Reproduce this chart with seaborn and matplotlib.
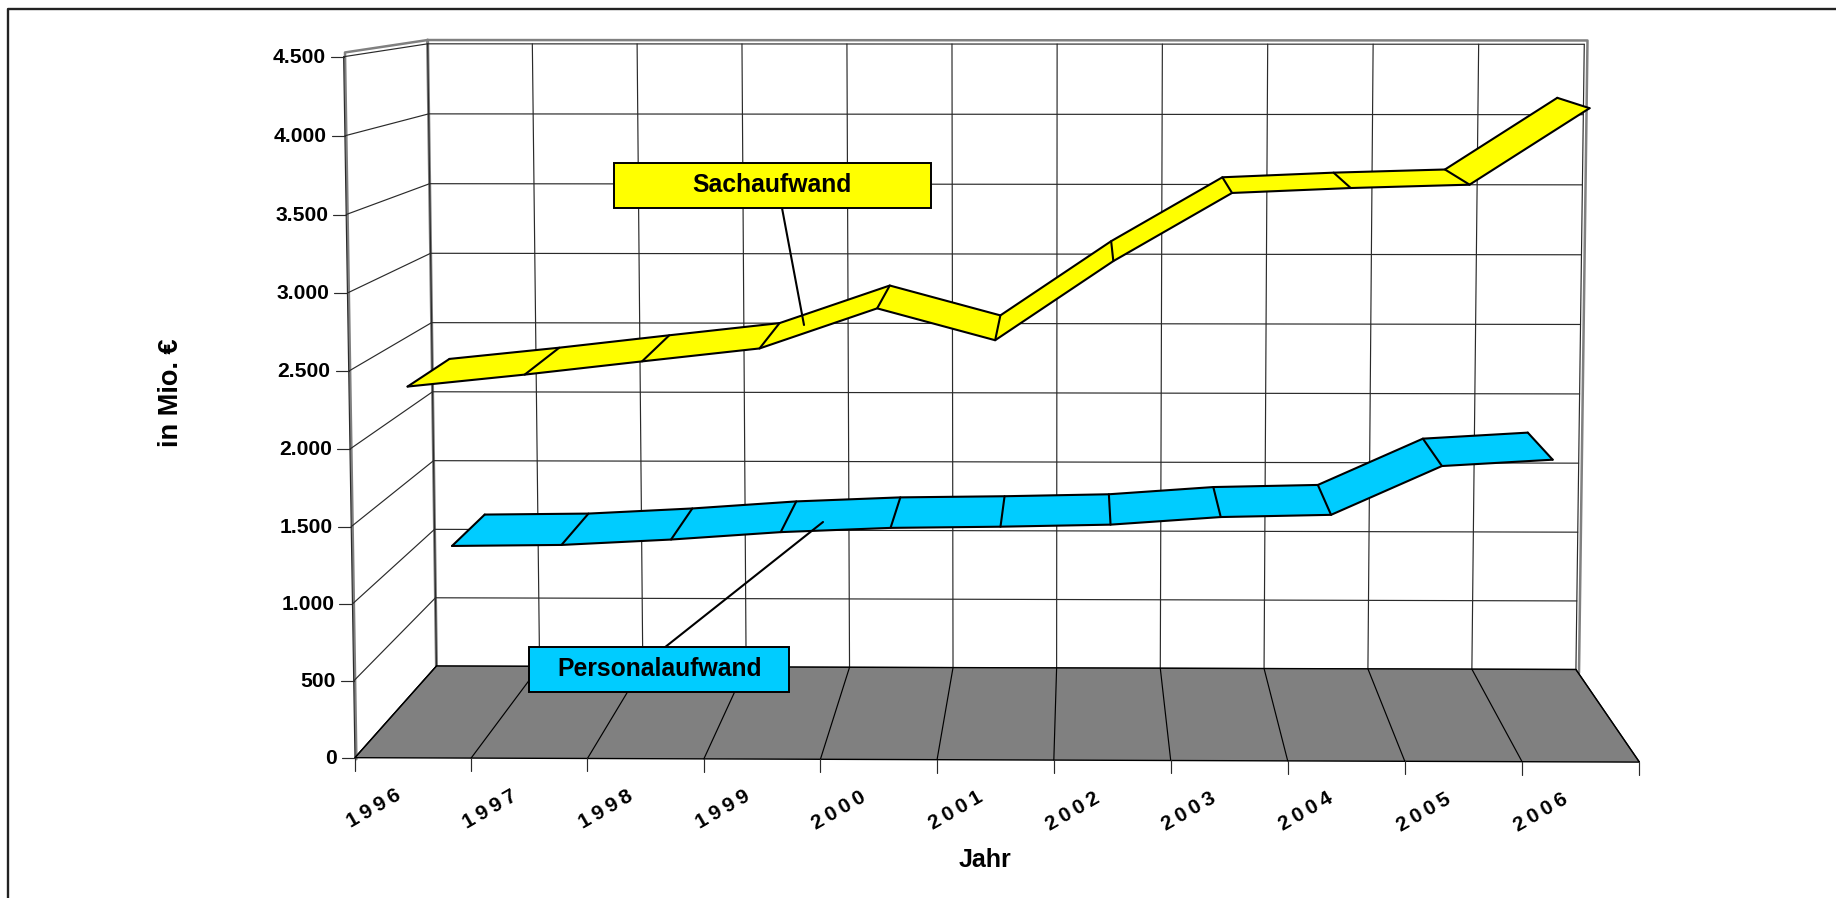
import numpy as np
import pandas as pd
import seaborn as sns
import matplotlib
matplotlib.use("Agg")
import matplotlib.pyplot as plt
from matplotlib.patches import Rectangle

years = [1996, 1997, 1998, 1999, 2000, 2001, 2002, 2003, 2004, 2005, 2006]
sachaufwand = [2402, 2480, 2566, 2650, 2907, 2705, 3210, 3643, 3675, 3697, 4180]
personalaufwand = [1118, 1127, 1166, 1219, 1250, 1260, 1276, 1330, 1347, 1683, 1728]
value_ticks = [0, 500, 1000, 1500, 2000, 2500, 3000, 3500, 4000, 4500]
value_labels = ["0", "500", "1.000", "1.500", "2.000", "2.500", "3.000", "3.500", "4.000", "4.500"]

YELLOW = "#FFFF00"
BLUE = "#00CCFF"
FLOOR = "#808080"
GRID = "#2a2a2a"
VMAX = 4500
N = len(years)

sns.set_theme(style="white")
plt.rcParams['font.family'] = ['Liberation Sans', 'DejaVu Sans']
plt.rcParams['font.weight'] = 'bold'

# box corners on screen, used to fit the perspective of the 3d chart
world = [(0, 0, 0), (N, 0, 0), (0, VMAX, 0), (0, 0, 1), (N, 0, 1), (0, VMAX, 1), (N, VMAX, 1)]
screen = [(354.7, 757.7), (1639.3, 762.3), (344, 56.5), (436.7, 666), (1576, 669.3), (427.3, 44), (1584.3, 44.3)]


def fit_camera(world, screen):
    A, b = [], []
    for (X, Y, Z), (u, v) in zip(world, screen):
        A.append([X, Y, Z, 1, 0, 0, 0, 0, -u * X, -u * Y, -u * Z])
        A.append([0, 0, 0, 0, X, Y, Z, 1, -v * X, -v * Y, -v * Z])
        b += [u, v]
    p = np.linalg.lstsq(np.array(A, float), np.array(b, float), rcond=None)[0]
    return np.append(p, 1).reshape(3, 4)


P = fit_camera(world, screen)


def project(x, value, depth):
    x, value, depth = np.broadcast_arrays(x, value, depth)
    pts = np.stack([x, value, depth, np.ones(x.shape)]) .astype(float)
    u, v, w = P @ pts
    return u / w, v / w


fig = plt.figure(figsize=(18.36, 8.98), dpi=100)
ax = fig.add_axes([0, 0, 1, 1])
ax.set_xlim(0, 1836)
ax.set_ylim(898, 0)
ax.axis("off")

# outer frame, only left and top are inside the picture
ax.plot([8, 8, 1836], [898, 9, 9], color="#222222", lw=1.7, zorder=1)

# wall outlines, a bit outside of the grid
ox, oy = project([0.012, 0.012, 0, N + 0.03, N + 0.03, 0],
                 [-10, VMAX + 27, VMAX + 27, VMAX + 27, -25, -25],
                 [0, 0, 1, 1, 1, 1])
ax.plot(ox, oy, color=FLOOR, lw=1.8, zorder=1)
ax.plot(*project([0, 0], [0, VMAX + 27], [1, 1]), color=FLOOR, lw=2.2, zorder=1)

# grid: back wall, side wall, floor
for v in value_ticks:
    ax.plot(*project([0, N], [v, v], [1, 1]), color=GRID, lw=0.85, zorder=2)
    ax.plot(*project([0, 0], [v, v], [0, 1]), color=GRID, lw=0.85, zorder=2)
for i in range(N + 1):
    ax.plot(*project([i, i], [0, VMAX], [1, 1]), color=GRID, lw=0.85, zorder=2)
ax.plot(*project([0, 0], [0, VMAX], [0, 0]), color=GRID, lw=0.85, zorder=2)

fx, fy = project([0, N, N, 0], [0, 0, 0, 0], [0, 0, 1, 1])
ax.fill(fx, fy, facecolor=FLOOR, edgecolor="black", lw=1.0, zorder=3)
for i in range(N + 1):
    ax.plot(*project([i, i], [0, 0], [0, 1]), color="black", lw=0.85, zorder=3)

# ticks and tick labels
for v, label in zip(value_ticks, value_labels):
    tx, ty = project(0, v, 0)
    ax.plot([tx - 13, tx], [ty, ty], color=GRID, lw=0.85, zorder=3)
    ax.text(tx - 18, ty + 0.5, label, ha="right", va="center", fontsize=15.2, fontweight="bold", color="black")
for i in range(N + 1):
    tx, ty = project(i, 0, 0)
    ax.plot([tx, tx], [ty, ty + 13], color=GRID, lw=0.85, zorder=3)
for i, year in enumerate(years):
    tx, ty = project(i, 0, 0)
    ax.text(tx + 18.5, ty + 51, "\u2009".join(str(year)), ha="center", va="center", rotation=30,
            fontsize=15, fontweight="bold", color="black")


def ribbon(values, d0, d1, color):
    pos = np.arange(N) + 0.5
    fx, fy = project(pos, np.array(values), d0)
    bx, by = project(pos, np.array(values), d1)
    for i in range(N - 1):
        ax.fill([fx[i], fx[i + 1], bx[i + 1], bx[i]], [fy[i], fy[i + 1], by[i + 1], by[i]],
                facecolor=color, edgecolor="none", zorder=4)
    for i in range(N):
        ax.plot([fx[i], bx[i]], [fy[i], by[i]], color="black", lw=1.5, zorder=5)
    edges = pd.DataFrame({"x": np.r_[fx, bx], "y": np.r_[fy, by], "edge": ["front"] * N + ["back"] * N})
    sns.lineplot(data=edges, x="x", y="y", units="edge", estimator=None, sort=False,
                 color="black", lw=1.5, ax=ax, zorder=5, legend=False)


ribbon(personalaufwand, 0.52, 0.98, BLUE)
ribbon(sachaufwand, 0.0, 0.52, YELLOW)
ax.set_xlim(0, 1836)
ax.set_ylim(898, 0)
ax.axis("off")

# labels with leader lines
ax.plot([782, 804], [208, 325], color="black", lw=1.5, zorder=6)
ax.plot([664, 823], [648, 522], color="black", lw=1.5, zorder=6)
ax.add_patch(Rectangle((614, 162.7), 317, 45.3, fc=YELLOW, ec="black", lw=1.4, zorder=7))
ax.text(772, 185, "Sachaufwand", ha="center", va="center", fontsize=17.8, fontweight="bold", color="black", zorder=8)
ax.add_patch(Rectangle((529.3, 646.7), 260, 45.3, fc=BLUE, ec="black", lw=1.4, zorder=7))
ax.text(659.5, 669, "Personalaufwand", ha="center", va="center", fontsize=17.8, fontweight="bold", color="black", zorder=8)

ax.text(171, 392.5, "in Mio. €", rotation=90, ha="center", va="center", fontsize=19.5, fontweight="bold", color="black")
ax.text(985, 860, "Jahr", ha="center", va="center", fontsize=18, fontweight="bold", color="black")

fig.savefig("out.png", dpi=100, facecolor="white")
